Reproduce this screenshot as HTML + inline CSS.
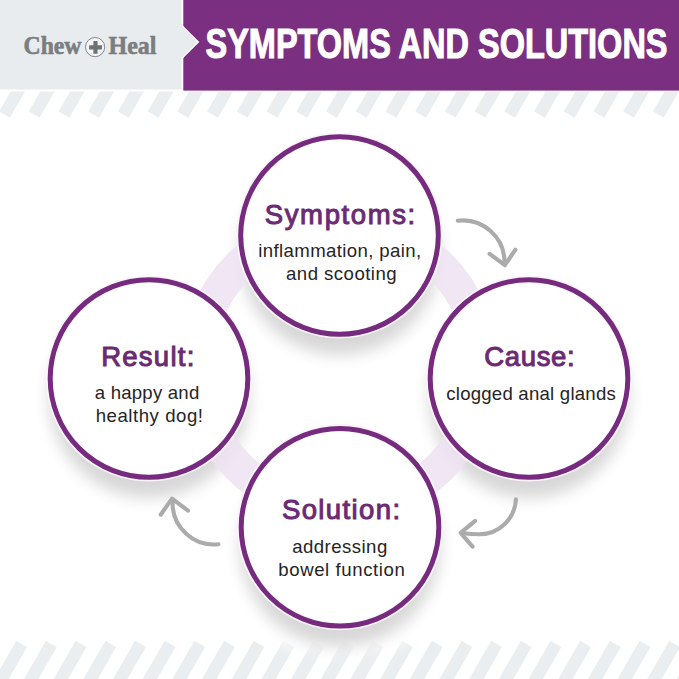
<!DOCTYPE html>
<html><head><meta charset="utf-8">
<style>
html,body{margin:0;padding:0;background:#fff;}
body{width:679px;height:679px;overflow:hidden;position:relative;}
svg{position:absolute;left:0;top:0;display:block;}
</style></head>
<body>
<svg width="679" height="679" viewBox="0 0 679 679">
<defs>
<filter id="sh" x="-50%" y="-50%" width="200%" height="200%">
<feGaussianBlur stdDeviation="8"/>
</filter>
<g id="stripe"><polygon points="0,0 12,0 12,60 0,60"/></g>
<clipPath id="ctop"><rect x="0" y="91.6" width="679" height="60"/></clipPath>
<filter id="glow" x="-50%" y="-50%" width="200%" height="200%"><feGaussianBlur stdDeviation="6"/></filter>
</defs>
<rect x="0" y="0" width="679" height="679" fill="#ffffff"/>
<!-- header -->
<rect x="183.3" y="0" width="496" height="90.6" fill="#7b2f80"/>
<polygon points="-2,-2 182.2,-2 182.2,25 199.3,42 182.2,59 182.2,90.6 -2,90.6" fill="#ffffff"/>
<polygon points="0,0 181.6,0 181.6,26.2 197.6,42 181.6,57.8 181.6,89.6 0,89.6" fill="#e8ecef"/>
<!-- top stripes -->
<g id="topstripes" fill="#ebeef1" clip-path="url(#ctop)"><polygon points="-30.67,111.55 -19.84,117.80 5.16,74.50 -5.67,68.25"/><polygon points="-0.95,111.55 9.88,117.80 34.88,74.50 24.05,68.25"/><polygon points="28.77,111.55 39.60,117.80 64.60,74.50 53.77,68.25"/><polygon points="58.49,111.55 69.32,117.80 94.32,74.50 83.49,68.25"/><polygon points="88.21,111.55 99.04,117.80 124.04,74.50 113.21,68.25"/><polygon points="117.93,111.55 128.76,117.80 153.76,74.50 142.93,68.25"/><polygon points="147.65,111.55 158.48,117.80 183.48,74.50 172.65,68.25"/><polygon points="177.37,111.55 188.20,117.80 213.20,74.50 202.37,68.25"/><polygon points="207.09,111.55 217.92,117.80 242.92,74.50 232.09,68.25"/><polygon points="236.81,111.55 247.64,117.80 272.64,74.50 261.81,68.25"/><polygon points="266.53,111.55 277.36,117.80 302.36,74.50 291.53,68.25"/><polygon points="296.25,111.55 307.08,117.80 332.08,74.50 321.25,68.25"/><polygon points="325.97,111.55 336.80,117.80 361.80,74.50 350.97,68.25"/><polygon points="355.69,111.55 366.52,117.80 391.52,74.50 380.69,68.25"/><polygon points="385.41,111.55 396.24,117.80 421.24,74.50 410.41,68.25"/><polygon points="415.13,111.55 425.96,117.80 450.96,74.50 440.13,68.25"/><polygon points="444.85,111.55 455.68,117.80 480.68,74.50 469.85,68.25"/><polygon points="474.57,111.55 485.40,117.80 510.40,74.50 499.57,68.25"/><polygon points="504.29,111.55 515.12,117.80 540.12,74.50 529.29,68.25"/><polygon points="534.01,111.55 544.84,117.80 569.84,74.50 559.01,68.25"/><polygon points="563.73,111.55 574.56,117.80 599.56,74.50 588.73,68.25"/><polygon points="593.45,111.55 604.28,117.80 629.28,74.50 618.45,68.25"/><polygon points="623.17,111.55 634.00,117.80 659.00,74.50 648.17,68.25"/><polygon points="652.89,111.55 663.72,117.80 688.72,74.50 677.89,68.25"/><polygon points="682.61,111.55 693.44,117.80 718.44,74.50 707.61,68.25"/></g>
<g id="botstripes" fill="#ebeef1"><polygon points="-13.38,640.80 -2.55,647.05 -32.55,699.01 -43.38,692.76"/><polygon points="16.30,640.80 27.13,647.05 -2.87,699.01 -13.70,692.76"/><polygon points="45.98,640.80 56.81,647.05 26.81,699.01 15.98,692.76"/><polygon points="75.66,640.80 86.49,647.05 56.49,699.01 45.66,692.76"/><polygon points="105.34,640.80 116.17,647.05 86.17,699.01 75.34,692.76"/><polygon points="135.02,640.80 145.85,647.05 115.85,699.01 105.02,692.76"/><polygon points="164.70,640.80 175.53,647.05 145.53,699.01 134.70,692.76"/><polygon points="194.38,640.80 205.21,647.05 175.21,699.01 164.38,692.76"/><polygon points="224.06,640.80 234.89,647.05 204.89,699.01 194.06,692.76"/><polygon points="253.74,640.80 264.57,647.05 234.57,699.01 223.74,692.76"/><polygon points="283.42,640.80 294.25,647.05 264.25,699.01 253.42,692.76"/><polygon points="313.10,640.80 323.93,647.05 293.93,699.01 283.10,692.76"/><polygon points="342.78,640.80 353.61,647.05 323.61,699.01 312.78,692.76"/><polygon points="372.46,640.80 383.29,647.05 353.29,699.01 342.46,692.76"/><polygon points="402.14,640.80 412.97,647.05 382.97,699.01 372.14,692.76"/><polygon points="431.82,640.80 442.65,647.05 412.65,699.01 401.82,692.76"/><polygon points="461.50,640.80 472.33,647.05 442.33,699.01 431.50,692.76"/><polygon points="491.18,640.80 502.01,647.05 472.01,699.01 461.18,692.76"/><polygon points="520.86,640.80 531.69,647.05 501.69,699.01 490.86,692.76"/><polygon points="550.54,640.80 561.37,647.05 531.37,699.01 520.54,692.76"/><polygon points="580.22,640.80 591.05,647.05 561.05,699.01 550.22,692.76"/><polygon points="609.90,640.80 620.73,647.05 590.73,699.01 579.90,692.76"/><polygon points="639.58,640.80 650.41,647.05 620.41,699.01 609.58,692.76"/><polygon points="669.26,640.80 680.09,647.05 650.09,699.01 639.26,692.76"/><polygon points="698.94,640.80 709.77,647.05 679.77,699.01 668.94,692.76"/></g>
<!-- glow -->
<ellipse cx="340" cy="632" rx="72" ry="20" fill="#fff" filter="url(#glow)" opacity="0.85"/>
<!-- shadows -->
<g fill="#000" opacity="0.155" filter="url(#sh)">
<circle cx="339.5" cy="254.8" r="100"/>
<circle cx="529" cy="397.8" r="100"/>
<circle cx="149" cy="397.8" r="100"/>
<circle cx="340" cy="546.5" r="100"/>
</g>
<!-- ring -->
<circle cx="339.5" cy="366.6" r="142.3" fill="none" stroke="#efe3f2" stroke-width="33" opacity="0.85"/>
<!-- circles -->
<g fill="none" stroke="#fbf4fb" stroke-width="2">
<circle cx="339.5" cy="235.5" r="102.1"/>
<circle cx="529" cy="378.5" r="102.1"/>
<circle cx="149" cy="378.5" r="102.1"/>
<circle cx="340" cy="527.2" r="102.1"/>
</g>
<g fill="#fff" stroke="#762b7f" stroke-width="5">
<circle cx="339.5" cy="235.5" r="98.8"/>
<circle cx="529" cy="378.5" r="98.8"/>
<circle cx="149" cy="378.5" r="98.8"/>
<circle cx="340" cy="527.2" r="98.8"/>
</g>
<!-- arrows -->
<g fill="none" stroke="#ababab" stroke-width="4.1" stroke-linecap="round" stroke-linejoin="round">
<path d="M457.8,220.7 A41.8,41.8 0 0 1 504.5,262.5"/>
<path d="M489.6,253.8 L504.8,265.2 L515.4,249.6"/>
<path d="M515.9,499.3 A36.7,36.7 0 0 1 479.7,534.3 Q470,534.2 462,533"/>
<path d="M475.2,520.9 L460.6,532.8 L472.6,546.7"/>
<path d="M218.5,544.2 A41.4,41.4 0 0 1 172.6,502.5"/>
<path d="M160.7,514.7 L172,498.6 L188,510.6"/>
</g>
<!-- header text -->
<text x="205.5" y="58.3" font-family="Liberation Sans" font-weight="bold" font-size="42.5" fill="#ffffff" stroke="#ffffff" stroke-width="1.1" textLength="462" lengthAdjust="spacingAndGlyphs">SYMPTOMS AND SOLUTIONS</text>
<!-- logo -->
<g fill="#7b7e81" stroke="#7b7e81" stroke-width="0.6" font-family="Liberation Serif" font-weight="bold" font-size="25.5">
<text x="23.5" y="53.7" textLength="58" lengthAdjust="spacingAndGlyphs">Chew</text>
<text x="108.5" y="53.7" textLength="48" lengthAdjust="spacingAndGlyphs">Heal</text>
</g>
<circle cx="95.1" cy="47.1" r="9.6" fill="#f2f4f6" stroke="#7a7d80" stroke-width="0.9"/>
<path d="M95.5,41 V53.8 M89.1,47.3 H101.9" stroke="#6e7073" stroke-width="4.2"/>
<!-- titles -->
<!-- texts -->
<g fill="#6b2a73" stroke="#6b2a73" stroke-width="1" font-family="Liberation Sans" font-size="27.5" text-anchor="middle">
<text x="340.00" y="223.50" textLength="150.40" lengthAdjust="spacing">Symptoms:</text>
<text x="529.45" y="365.50" textLength="90.50" lengthAdjust="spacing">Cause:</text>
<text x="147.75" y="365.90" textLength="93.10" lengthAdjust="spacing">Result:</text>
<text x="341.00" y="519.00" textLength="118.20" lengthAdjust="spacing">Solution:</text>
</g>
<g fill="#262425" font-family="Liberation Sans" font-size="18.6" text-anchor="middle">
<text x="339.70" y="256.60" textLength="162.90" lengthAdjust="spacing">inflammation, pain,</text>
<text x="341.30" y="279.80" textLength="110.50" lengthAdjust="spacing">and scooting</text>
<text x="531.00" y="399.60" textLength="169.50" lengthAdjust="spacing">clogged anal glands</text>
<text x="147.00" y="398.90" textLength="104.50" lengthAdjust="spacing">a happy and</text>
<text x="149.35" y="421.80" textLength="107.20" lengthAdjust="spacing">healthy dog!</text>
<text x="339.70" y="552.60" textLength="95.10" lengthAdjust="spacing">addressing</text>
<text x="341.55" y="575.60" textLength="126.40" lengthAdjust="spacing">bowel function</text>
</g>
<!-- /texts -->
</svg>
</body></html>
